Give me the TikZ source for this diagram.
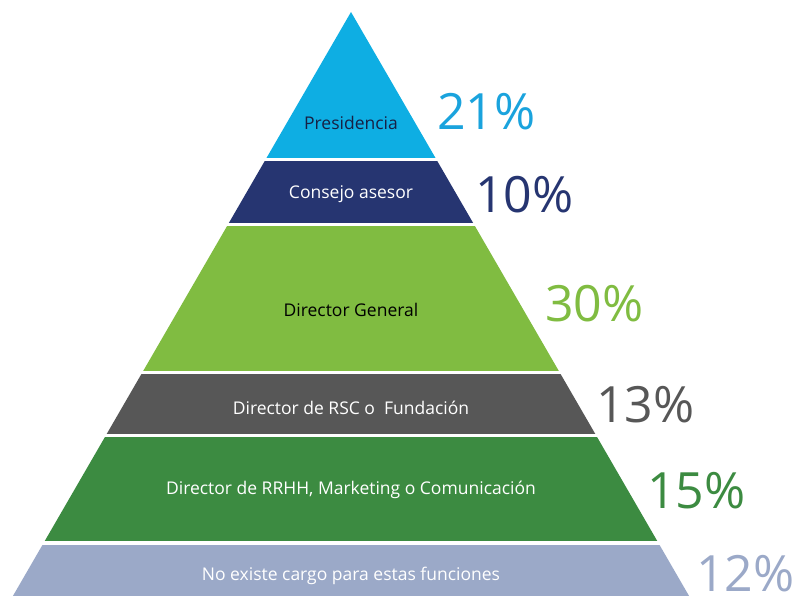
\documentclass[tikz,border=0pt]{standalone}
\usepackage{fontspec}
\setmainfont{Open Sans}
\usepackage{xcolor}
\usetikzlibrary{positioning, calc}
\definecolor{presblue}{HTML}{0EAEE3}
\definecolor{navyblue}{HTML}{263571}
\definecolor{leafgreen}{HTML}{80BC41}
\definecolor{darkgray}{HTML}{575757}
\definecolor{forestgreen}{HTML}{3C8B41}
\definecolor{slateblue}{HTML}{9BA9C8}
\definecolor{pctblue}{HTML}{1AA3DD}

\begin{document}
\begin{tikzpicture}[
	x=1pt, y=-1pt,
	level_label/.style={font=\fontsize{17.5}{19}\selectfont, text=white, inner sep=0pt},
	pct_label/.style={font=\fontsize{50}{52}\selectfont, anchor=west, inner sep=0pt}
	]
	\useasboundingbox (0,0) rectangle (796,596);
	
	% --- Pyramid: one triangle cut into horizontal slabs ---
	\coordinate (apex) at (351,12);
	\coordinate (base_left) at (12.9,596);
	\coordinate (base_right) at (689.1,596);
	\begin{scope}
		\clip (apex) -- (base_right) -- (base_left) -- cycle;
		\fill[presblue] (0,0) rectangle (796,158);
		\fill[navyblue] (0,161) rectangle (796,223);
		\fill[leafgreen] (0,226) rectangle (796,371);
		\fill[darkgray] (0,374) rectangle (796,434);
		\fill[forestgreen] (0,437) rectangle (796,541);
		\fill[slateblue] (0,545) rectangle (796,600);
	\end{scope}
	
	% --- Level names ---
	\node[level_label, text=navyblue!60!black] (presidencia) at (351,123) {Presidencia};
	\node[level_label] (consejo) at (351,194) {Consejo asesor};
	\node[level_label, text=black] (general) at (351,310) {Director General};
	\node[level_label] (rsc) at (351,408) {Director de RSC o\ \ Fundación};
	\node[level_label] (rrhh) at (351,490) {Director de RRHH, Marketing o Comunicación};
	\node[level_label] (ninguno) at (351,576) {No existe cargo para estas funciones};
	
	% --- Percentages beside each level ---
	\node[pct_label, text=pctblue] (pct_presidencia) at (437,112) {21\%};
	\node[pct_label, text=navyblue] (pct_consejo) at (475,195) {10\%};
	\node[pct_label, text=leafgreen] (pct_general) at (545,304) {30\%};
	\node[pct_label, text=darkgray] (pct_rsc) at (596,405) {13\%};
	\node[pct_label, text=forestgreen] (pct_rrhh) at (647,491) {15\%};
	\node[pct_label, text=slateblue] (pct_ninguno) at (696,574) {12\%};
	
\end{tikzpicture}
\end{document}
